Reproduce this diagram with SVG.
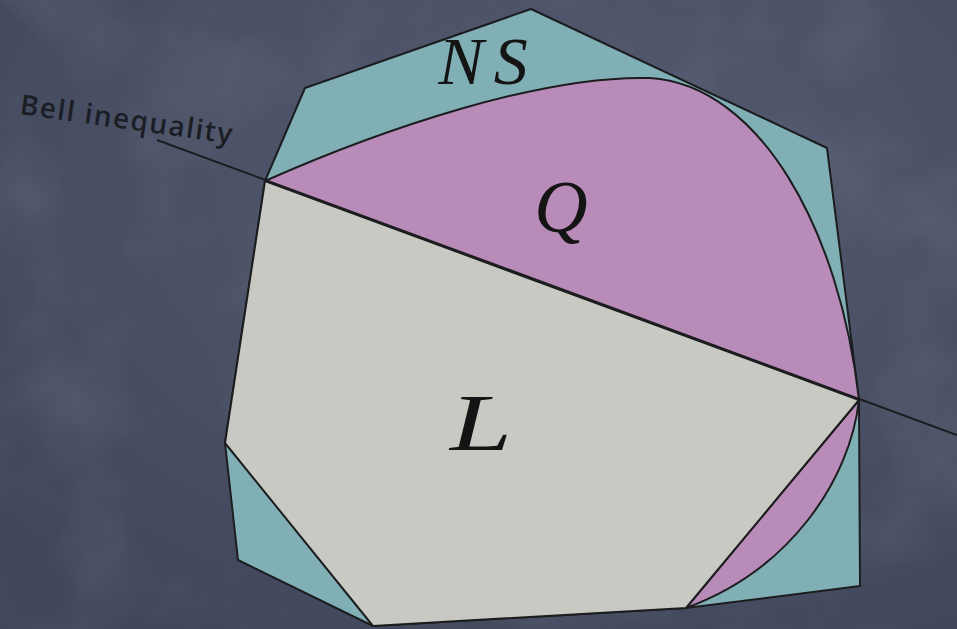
<svg xmlns="http://www.w3.org/2000/svg" width="957" height="629" viewBox="0 0 957 629">
  <defs>
    <filter id="tex" x="0" y="0" width="100%" height="100%">
      <feTurbulence type="fractalNoise" baseFrequency="0.008" numOctaves="4" seed="7" result="n"/>
      <feColorMatrix in="n" type="matrix" values="0 0 0 0 0.72  0 0 0 0 0.75  0 0 0 0 0.85  0 0 0 0.9 -0.4"/>
    </filter>
    <radialGradient id="bg" cx="0.6" cy="0.3" r="0.85">
      <stop offset="0" stop-color="#555b70"/>
      <stop offset="1" stop-color="#40465a"/>
    </radialGradient>
  </defs>
  <style>
    .edge { stroke: #1c1d1f; stroke-width: 2; stroke-linejoin: round; }
    .ns { fill: #80b0b6; }
    .q { fill: #b98bb8; }
    .l { fill: #c9c9c4; }
    .sym { font-family: "Liberation Serif", "DejaVu Serif", serif; font-style: italic; fill: #141414; }
    .lbl { font-family: "Open Sans", "DejaVu Sans", sans-serif; font-size: 28px; font-weight: 600; fill: #1b1e25; }
  </style>
  <rect width="957" height="629" fill="url(#bg)"/>
  <rect width="957" height="629" filter="url(#tex)" opacity="0.22"/>

  <g id="NS">
    <polygon class="ns edge" points="531,9 827,148 859,400 860,586 686,608 373,626 238,560 225,443 265,181 305,88"/>
    <text class="sym" x="488" y="84" font-size="68" text-anchor="middle" letter-spacing="10">NS</text>
  </g>

  <g id="Q">
    <path class="q edge" d="M265,181 C380,130 540,75 650,78 C760,85 840,230 859,400 Z"/>
    <path class="q edge" d="M859,400 C850,480 790,570 686,608 Z"/>
    <text class="sym" x="561" y="232" font-size="74" text-anchor="middle">Q</text>
  </g>

  <g id="L">
    <polygon class="l edge" points="265,181 859,400 686,608 373,626 225,443"/>
    <text class="sym" x="481" y="450" font-size="80" text-anchor="middle" textLength="62" lengthAdjust="spacingAndGlyphs">L</text>
  </g>

  <g id="connectors">
    <line x1="157" y1="140" x2="957" y2="435" stroke="#1c1d1f" stroke-width="2"/>
  </g>

  <g id="bell-label">
    <text class="lbl" transform="translate(19,114) rotate(8)" textLength="214" lengthAdjust="spacing">Bell inequality</text>
  </g>
</svg>
